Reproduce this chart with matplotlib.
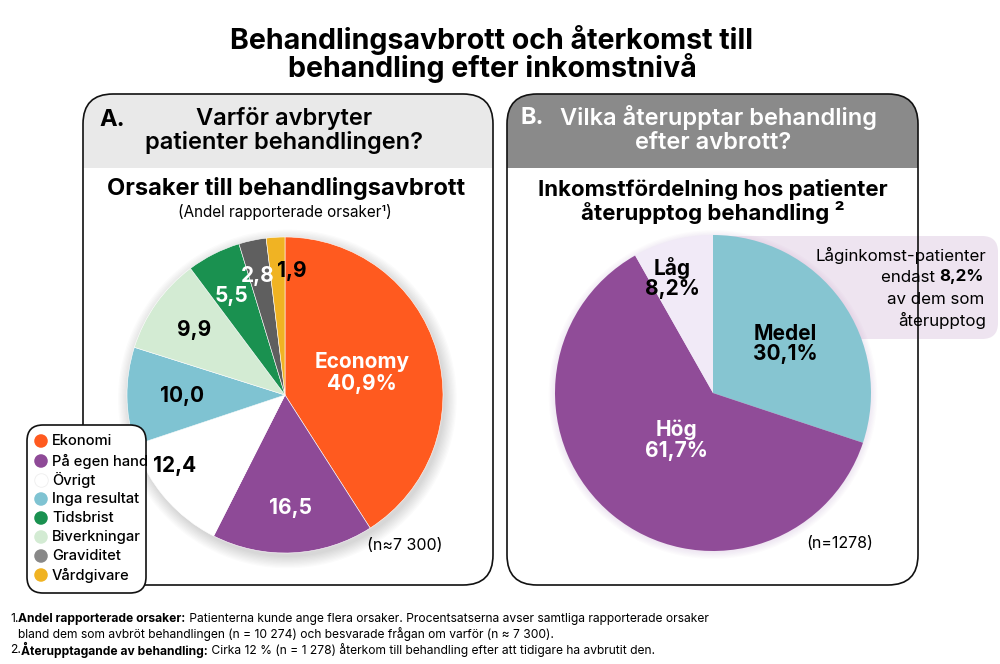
import matplotlib
matplotlib.use("Agg")
import matplotlib.pyplot as plt
from matplotlib.patches import FancyBboxPatch, Rectangle, Circle

# ---------------- data ----------------
reasons = ["Ekonomi", "På egen hand", "Övrigt", "Inga resultat", "Tidsbrist",
           "Biverkningar", "Graviditet", "Vårdgivare"]
reason_values = [40.9, 16.5, 12.4, 10.0, 9.9, 5.5, 2.8, 1.9]
reason_labels = ["Economy\n40,9%", "16,5", "12,4", "10,0", "9,9", "5,5", "2,8", "1,9"]
reason_colors = ["#FF5A1F", "#8E4A97", "#FFFFFF", "#7FC3D2", "#D3EBD3",
                 "#1A9150", "#5F5F5F", "#F0B323"]
legend_colors = ["#FF5A1F", "#8E4A97", "#FFFFFF", "#7FC3D2", "#1A9150",
                 "#D3EBD3", "#888888", "#F0B323"]
legend_labels = ["Ekonomi", "På egen hand", "Övrigt", "Inga resultat", "Tidsbrist",
                 "Biverkningar", "Graviditet", "Vårdgivare"]

income_groups = ["Medel", "Hög", "Låg"]
income_values = [30.1, 61.7, 8.2]
income_labels = ["Medel\n30,1%", "Hög\n61,7%", "Låg\n8,2%"]
income_colors = ["#86C5D1", "#904C98", "#F1EAF7"]

FONT = "Inter"
plt.rcParams["font.family"] = [FONT, "DejaVu Sans"]

W, H = 1000, 664
fig = plt.figure(figsize=(W / 100, H / 100), dpi=100)
bg = fig.add_axes([0, 0, 1, 1])
bg.set_xlim(0, W)
bg.set_ylim(H, 0)
bg.axis("off")

# ---------------- title ----------------
bg.text(492, 40, "Behandlingsavbrott och återkomst till", ha="center", va="center",
        fontsize=20.6, fontweight="bold")
bg.text(492, 68, "behandling efter inkomstnivå", ha="center", va="center",
        fontsize=20.6, fontweight="bold")


def panel(x0, x1, y0, y1, yh, hcolor):
    clip = Rectangle((x0 - 5, y0 - 5), x1 - x0 + 10, yh - y0 + 5, transform=bg.transData)
    hdr = FancyBboxPatch((x0, y0), x1 - x0, y1 - y0, boxstyle="round,pad=0,rounding_size=30",
                         fc=hcolor, ec="none", zorder=1)
    body = FancyBboxPatch((x0, y0), x1 - x0, y1 - y0, boxstyle="round,pad=0,rounding_size=30",
                          fc="white", ec="none", zorder=0.5)
    bg.add_patch(body)
    bg.add_patch(hdr)
    hdr.set_clip_path(clip)
    outline = FancyBboxPatch((x0, y0), x1 - x0, y1 - y0, boxstyle="round,pad=0,rounding_size=30",
                             fc="none", ec="#111111", lw=1.2, zorder=3)
    bg.add_patch(outline)


panel(83, 493, 94, 585, 168, "#E9E9E9")
panel(507, 918, 94, 585, 168, "#8A8A8A")

HS = 17
# header texts
bg.text(99, 120, "A.", ha="left", va="center", fontsize=HS, fontweight="bold", zorder=4)
bg.text(284, 119, "Varför avbryter", ha="center", va="center", fontsize=HS,
        fontweight="semibold", zorder=4)
bg.text(284, 143, "patienter behandlingen?", ha="center", va="center", fontsize=HS,
        fontweight="semibold", zorder=4)
bg.text(520, 118, "B.", ha="left", va="center", fontsize=HS, fontweight="bold",
        color="white", zorder=4)
bg.text(718, 118, "Vilka återupptar behandling", ha="center", va="center", fontsize=HS,
        fontweight="semibold", color="white", zorder=4)
bg.text(713, 143, "efter avbrott?", ha="center", va="center", fontsize=HS,
        fontweight="semibold", color="white", zorder=4)

# subtitles
bg.text(286, 189, "Orsaker till behandlingsavbrott", ha="center", va="center",
        fontsize=17, fontweight="bold", zorder=4)
bg.text(285, 212, "(Andel rapporterade orsaker¹)", ha="center", va="center",
        fontsize=11, zorder=4)
bg.text(713, 189, "Inkomstfördelning hos patienter", ha="center", va="center",
        fontsize=16, fontweight="bold", zorder=4)
bg.text(713, 212, "återupptog behandling ²", ha="center", va="center",
        fontsize=16, fontweight="bold", zorder=4)

# callout box (behind pie B)
call = FancyBboxPatch((700, 236), 298, 103, boxstyle="round,pad=0,rounding_size=16",
                      fc="#EEE4F0", ec="none", zorder=2)
bg.add_patch(call)
CS = 12.2
tx = 986
bg.text(tx, 255, "Låginkomst-patienter", ha="right", va="center", fontsize=CS, zorder=6)
b82 = bg.text(tx - 2, 277, "8,2%", ha="right", va="center", fontsize=CS, fontweight="bold", zorder=6)
bg.annotate("endast ", xy=(0, 0.5), xycoords=b82, ha="right", va="center",
            fontsize=CS, zorder=6)
bg.text(tx - 2, 299, "av dem som", ha="right", va="center", fontsize=CS, zorder=6)
bg.text(tx, 320, "återupptog", ha="right", va="center", fontsize=CS, zorder=6)

# n labels
bg.text(405, 546, "(n≈7 300)", ha="center", va="center", fontsize=11.5, zorder=4)
bg.text(840, 543, "(n=1278)", ha="center", va="center", fontsize=11.5, zorder=4)


def pie_axes(cx, cy, r):
    ax = fig.add_axes([(cx - r) / W, (H - cy - r) / H, 2 * r / W, 2 * r / H])
    ax.set_xlim(-1, 1)
    ax.set_ylim(-1, 1)
    ax.axis("off")
    ax.set_zorder(5)
    ax.patch.set_alpha(0)
    return ax


# ---------------- pie A ----------------
cxA, cyA, rA = 285, 395, 158
axA = pie_axes(cxA, cyA, rA)
for i in range(10):
    axA.add_patch(Circle((0.015, -0.025), 1.0 + 0.008 * i, fc="#000000", alpha=0.016,
                         ec="none", zorder=0, clip_on=False))
wA, _ = axA.pie(reason_values, colors=reason_colors, startangle=90, counterclock=False,
                radius=1, wedgeprops=dict(edgecolor="white", linewidth=0.4))
for w in wA:
    w.set_zorder(2)
    w.set_clip_on(False)
axA.set_xlim(-1, 1)
axA.set_ylim(-1, 1)

LS = 15
labA_pos = [(362, 373), (290, 508), (175, 466), (182, 396), (194, 330),
            (232, 296), (258, 276), (292, 271)]
labA_col = ["white", "white", "black", "black", "black", "white", "white", "black"]
for lab, (px, py), c in zip(reason_labels, labA_pos, labA_col):
    bg.text(px, py, lab, ha="center", va="center", fontsize=LS, fontweight="bold",
            color=c, zorder=7, linespacing=1.1, transform=bg.transData)

# ---------------- pie B ----------------
cxB, cyB, rB = 713, 393, 158
axB = pie_axes(cxB, cyB, rB)
for i in range(6):
    axB.add_patch(Circle((0.0, -0.01), 1.0 + 0.008 * i, fc="#8E4A97", alpha=0.02,
                         ec="none", zorder=0, clip_on=False))
wB, _ = axB.pie(income_values, colors=income_colors, startangle=90, counterclock=False,
                radius=1, wedgeprops=dict(edgecolor="none"))
for w in wB:
    w.set_zorder(2)
axB.set_xlim(-1, 1)
axB.set_ylim(-1, 1)

labB_pos = [(785, 344), (676, 440), (672, 278)]
labB_col = ["black", "white", "black"]
for lab, (px, py), c in zip(income_labels, labB_pos, labB_col):
    bg.text(px, py, lab, ha="center", va="center", fontsize=LS, fontweight="bold",
            color=c, zorder=7, linespacing=1.05)

# overlay axes so texts sit above the pies
over = fig.add_axes([0, 0, 1, 1])
over.set_xlim(0, W)
over.set_ylim(H, 0)
over.axis("off")
over.set_zorder(10)
over.patch.set_alpha(0)
for t in list(bg.texts):
    if t.get_zorder() >= 6:
        t.remove()
        over.add_artist(t)
        t.set_transform(over.transData)
        t.axes = over

# ---------------- legend ----------------
lg = FancyBboxPatch((27, 425), 119, 168, boxstyle="round,pad=0,rounding_size=16",
                    fc="white", ec="#111111", lw=1.2, zorder=1)
over.add_patch(lg)
ys = [441, 461, 480, 499, 518, 537, 556, 575]
for lab, col, y in zip(legend_labels, legend_colors, ys):
    over.scatter([41], [y], s=95, c=col, edgecolors="#EEEEEE" if col == "#FFFFFF" else "none",
                 linewidths=0.6, zorder=2)
    t = over.text(52, y, lab, ha="left", va="center", fontsize=10.6, fontweight="medium",
                  zorder=3)
    t.set_clip_path(lg)

# ---------------- footnotes ----------------
fs = 8.7
t1 = over.text(10, 619, "1.", ha="left", va="center", fontsize=fs)
a = over.annotate("Andel rapporterade orsaker:", xy=(1, 0.5), xycoords=t1, ha="left",
                  va="center", fontsize=fs, fontweight="bold")
over.annotate(" Patienterna kunde ange flera orsaker. Procentsatserna avser samtliga rapporterade orsaker",
              xy=(1, 0.5), xycoords=a, ha="left", va="center", fontsize=fs)
over.text(18, 634, "bland dem som avbröt behandlingen (n = 10 274) och besvarade frågan om varför (n ≈ 7 300).",
          ha="left", va="center", fontsize=fs)
t2 = over.text(10, 650, "2.", ha="left", va="center", fontsize=fs)
b = over.annotate("Återupptagande av behandling:", xy=(1, 0.5), xycoords=t2, ha="left",
                  va="center", fontsize=fs, fontweight="bold")
over.annotate(" Cirka 12 % (n = 1 278) återkom till behandling efter att tidigare ha avbrutit den.",
              xy=(1, 0.5), xycoords=b, ha="left", va="center", fontsize=fs)

fig.savefig("out.png", dpi=100, facecolor="white")
